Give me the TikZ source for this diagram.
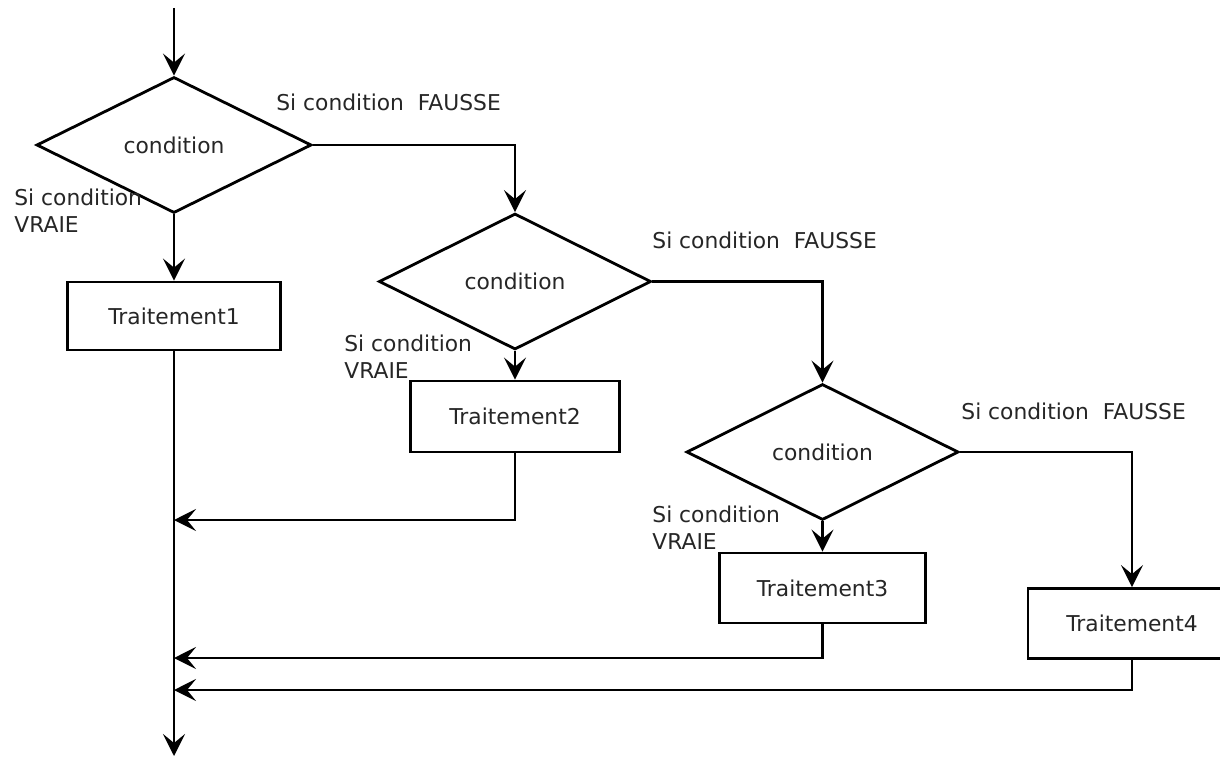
\documentclass[tikz,border=0pt]{standalone}
\usepackage{fontspec}
\setmainfont{DejaVu Sans}
\usetikzlibrary{shapes.geometric,arrows.meta}
\begin{document}
\begin{tikzpicture}[x=1pt,y=-1pt,
  line width=2.8pt,
  font=\fontsize{21.8}{27}\selectfont,
  dec/.style={diamond,draw=black,text=black!85,inner sep=0pt,minimum height=136pt},
  box/.style={rectangle,draw=black,text=black!85,inner sep=0pt,minimum height=70pt},
  arr/.style={-{Stealth[length=22pt,width=22pt,inset=9pt]}},
  lbl/.style={anchor=base west,inner sep=0pt,align=left,text=black!85}
]
\clip (0,0) rectangle (1220,757);
\fill[white] (0,0) rectangle (1220,757);

% decisions
\node[dec,minimum width=275pt] (d1) at (174,145) {condition};
\node[dec,minimum width=272pt] (d2) at (515,281.5) {condition};
\node[dec,minimum width=272pt] (d3) at (822.5,452) {condition};

% treatments
\node[box,minimum width=213pt,minimum height=68pt] (t1) at (174,316) {Traitement1};
\node[box,minimum width=209pt,minimum height=71pt] (t2) at (515,416.5) {Traitement2};
\node[box,minimum width=206pt] (t3) at (822.5,588) {Traitement3};
\node[box,minimum width=208pt] (t4) at (1132,623.5) {Traitement4};

% labels
\node[lbl] (f1) at (275,111) {Si condition\ \ FAUSSE};
\node[lbl] (f2) at (651,248) {Si condition\ \ FAUSSE};
\node[lbl] (f3) at (960,419) {Si condition\ \ FAUSSE};
\node[lbl] (v1) at (13,232) {Si condition\\VRAIE};
\node[lbl] (v2) at (343,378) {Si condition\\VRAIE};
\node[lbl] (v3) at (651,549) {Si condition\\VRAIE};

% free ends
\coordinate (start) at (174,8);
\coordinate (end) at (174,756);
\coordinate (j2) at (174,520);
\coordinate (j3) at (174,658);
\coordinate (j4) at (174,690);

% connectors
\draw[arr] (start) -- (d1.north);
\draw[arr] (d1.south) -- (t1.north);
\draw[arr] (d1.east) -| (d2.north);
\draw[arr] (d2.south) -- (t2.north);
\draw[arr] (d2.east) -| (d3.north);
\draw[arr] (d3.south) -- (t3.north);
\draw[arr] (d3.east) -| (t4.north);
\draw[arr] (t1.south) -- (end);
\draw[arr] (t2.south) |- (j2);
\draw[arr] (t3.south) |- (j3);
\draw[arr] (t4.south) |- (j4);
\end{tikzpicture}
\end{document}
